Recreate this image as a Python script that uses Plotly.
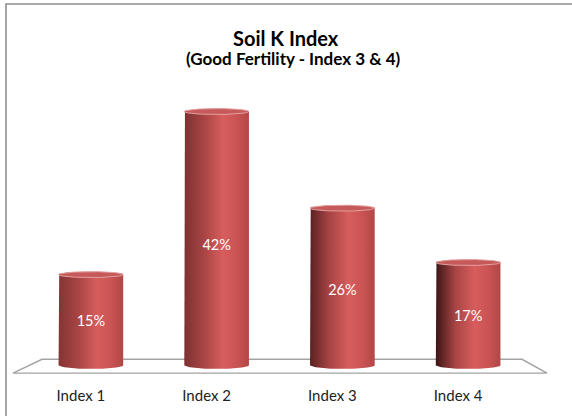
import numpy as np
import plotly.graph_objects as go

# ---- data ----
categories = ["Index 1", "Index 2", "Index 3", "Index 4"]
values = [15, 42, 26, 17]
value_labels = ["15%", "42%", "26%", "17%"]
title_text = "Soil K Index"
subtitle_text = "(Good Fertility - Index 3 & 4)"

# ---- layout geometry ----
W_FIG, H_FIG = 572, 416
ML, MR, MT, MB = 28, 41, 80, 32
PW = W_FIG - ML - MR
PH = H_FIG - MT - MB
Y0, Y1 = -2.45, 47.22
XR = (-0.5, 3.5)
px_per_y = PH / (Y1 - Y0)
half_w = 0.257
ry_top = 3.0 / px_per_y
ry_bot = 3.8 / px_per_y

FONT = "Lato"


def px_x(px):
    return (px - ML) / PW


def px_y(py):
    return 1 - (py - MT) / PH


edge_dark = ["#853434", "#7e3131", "#5a2121", "#3c1515"]

fig = go.Figure()

t_up = np.linspace(np.pi, 0, 48)
t_dn = np.linspace(0, -np.pi, 48)
t_full = np.linspace(0, 2 * np.pi, 97)

for i, (cat, v) in enumerate(zip(categories, values)):
    xc = i
    xs = [xc - half_w] + list(xc + half_w * np.cos(t_up)) + list(xc + half_w * np.cos(t_dn))
    ys = [0] + list(v + ry_top * np.sin(t_up)) + list(ry_bot * np.sin(t_dn))
    fig.add_trace(go.Scatter(
        x=xs, y=ys, mode="lines", fill="toself",
        line=dict(width=0, color="rgba(0,0,0,0)"),
        fillgradient=dict(type="horizontal", colorscale=[
            [0.0, edge_dark[i]], [0.3, "#a84444"], [0.6, "#d85d5d"],
            [0.82, "#c95353"], [1.0, "#b24646"]]),
        hoverinfo="skip", showlegend=False))
    # top face
    fig.add_trace(go.Scatter(
        x=list(xc + half_w * np.cos(t_full)), y=list(v + ry_top * np.sin(t_full)),
        mode="lines", fill="toself", fillcolor="#c65a5a",
        line=dict(width=1, color="#e4a0a0"),
        hoverinfo="skip", showlegend=False))

fig.add_trace(go.Scatter(
    x=list(range(len(categories))), y=[v * 0.47 for v in values],
    mode="text", text=value_labels,
    textfont=dict(family=FONT, size=14.5, color="white"),
    hoverinfo="skip", showlegend=False))

shapes = [
    # floor
    dict(type="path", xref="paper", yref="paper", layer="below",
         path=(f"M {px_x(42)} {px_y(363)} L {px_x(522)} {px_y(363)} "
               f"L {px_x(547)} {px_y(377)} L {px_x(13)} {px_y(377)} Z"),
         fillcolor="white", line=dict(color="#a3a3a3", width=1.4)),
    # chart border
    dict(type="rect", xref="paper", yref="paper",
         x0=px_x(6), x1=px_x(640), y0=px_y(3), y1=px_y(480),
         line=dict(color="#8f8f8f", width=1.6), fillcolor="rgba(0,0,0,0)"),
]

annotations = [
    dict(text=f"<b>{title_text}</b>", xref="paper", yref="paper",
         x=px_x(286), y=px_y(37), xanchor="center", yanchor="middle",
         showarrow=False, font=dict(family=FONT, size=20, color="black")),
    dict(text=f"<b>{subtitle_text}</b>", xref="paper", yref="paper",
         x=px_x(293), y=px_y(58), xanchor="center", yanchor="middle",
         showarrow=False, font=dict(family=FONT, size=17, color="black")),
]

fig.update_layout(
    width=W_FIG, height=H_FIG,
    margin=dict(l=ML, r=MR, t=MT, b=MB),
    paper_bgcolor="white", plot_bgcolor="white",
    shapes=shapes, annotations=annotations,
    xaxis=dict(range=list(XR), tickmode="array",
               tickvals=list(range(len(categories))), ticktext=categories,
               showgrid=False, zeroline=False, showline=False, ticks="",
               ticklabelstandoff=5, ticklabelshift=-10,
               tickfont=dict(family=FONT, size=15, color="#222222"),
               fixedrange=True),
    yaxis=dict(range=[Y0, Y1], visible=False, fixedrange=True),
    showlegend=False,
)

fig.write_html("out.html", config={"displayModeBar": False},
               post_script="document.body.style.margin='0';")
